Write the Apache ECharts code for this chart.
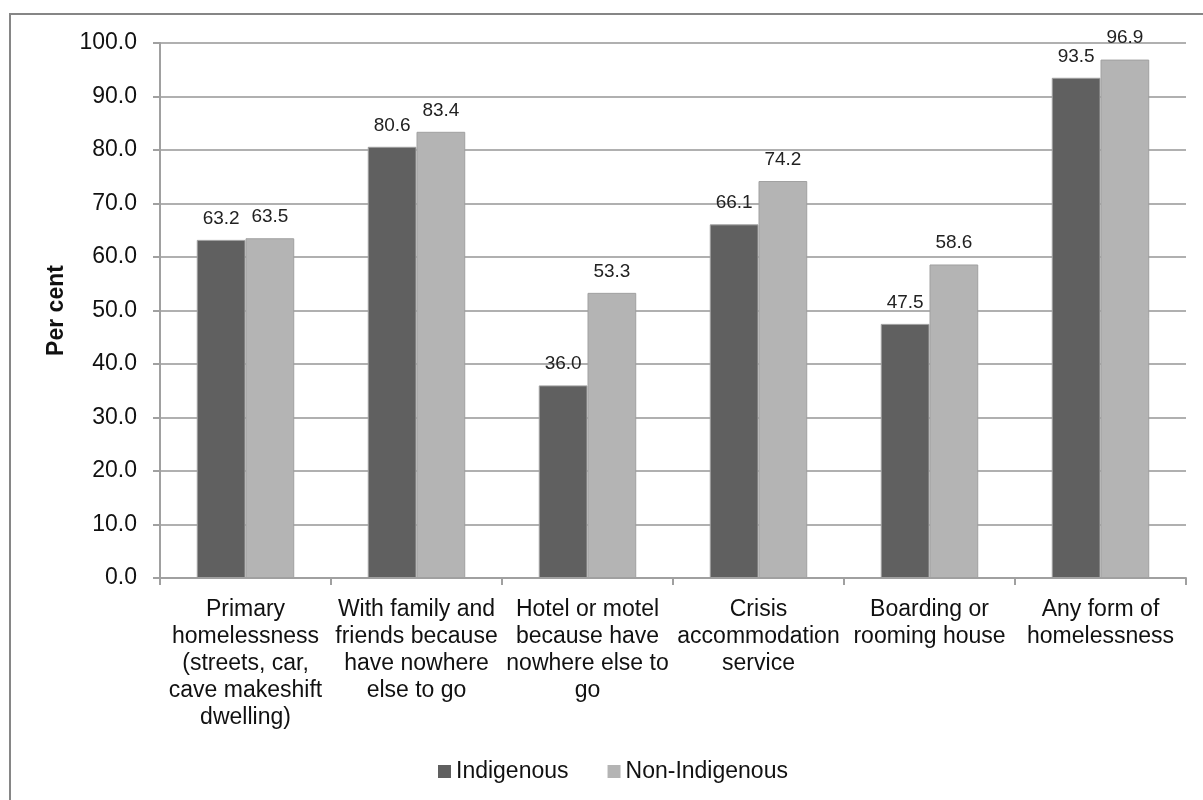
<!DOCTYPE html>
<html>
<head>
<meta charset="utf-8">
<title>Homelessness experience by Indigenous status</title>
<script src="https://cdn.jsdelivr.net/npm/echarts@6/dist/echarts.min.js"></script>
<style>
  html, body { margin: 0; padding: 0; background: #ffffff; }
  #chart { width: 1203px; height: 800px; }
</style>
</head>
<body>
<div id="chart"></div>
<script>
// Categories (line breaks follow the wrapped axis labels)
const categories = [
  'Primary\nhomelessness\n(streets, car,\ncave makeshift\ndwelling)',
  'With family and\nfriends because\nhave nowhere\nelse to go',
  'Hotel or motel\nbecause have\nnowhere else to\ngo',
  'Crisis\naccommodation\nservice',
  'Boarding or\nrooming house',
  'Any form of\nhomelessness'
];
const seriesNames = ['Indigenous', 'Non-Indigenous'];
const indigenous = [63.2, 80.6, 36.0, 66.1, 47.5, 93.5];
const nonIndigenous = [63.5, 83.4, 53.3, 74.2, 58.6, 96.9];
const yTicks = [0, 10, 20, 30, 40, 50, 60, 70, 80, 90, 100];

const font = '"Liberation Sans", Arial, sans-serif';

const chart = echarts.init(document.getElementById('chart'), null, { renderer: 'canvas' });

function barSeries(name, data, color) {
  return {
    name: name,
    type: 'bar',
    data: data,
    barGap: '0%',
    barCategoryGap: '43%',
    itemStyle: { color: color, borderColor: '#a0a0a0', borderWidth: 1 },
    label: {
      show: true,
      position: 'top',
      distance: 12,
      color: '#222',
      fontFamily: font,
      fontSize: 19,
      formatter: p => p.value.toFixed(1)
    },
    emphasis: { disabled: true }
  };
}

chart.setOption({
  animation: false,
  backgroundColor: '#ffffff',
  graphic: [{
    type: 'rect',
    shape: { x: 10, y: 14, width: 1240, height: 820 },
    style: { fill: 'none', stroke: '#868686', lineWidth: 2 },
    silent: true,
    z: -1
  }],
  grid: { left: 160, right: 17, top: 43, bottom: 222, containLabel: false },
  legend: {
    bottom: 12,
    left: 433,
    itemWidth: 13,
    itemHeight: 13,
    itemGap: 39,
    icon: 'rect',
    itemStyle: { borderWidth: 0 },
    textStyle: { fontFamily: font, fontSize: 23, color: '#111' },
    data: seriesNames
  },
  xAxis: {
    type: 'category',
    data: categories,
    boundaryGap: true,
    axisLine: { lineStyle: { color: '#a0a0a0', width: 2 } },
    axisTick: { show: true, length: 7, lineStyle: { color: '#a0a0a0', width: 2 } },
    axisLabel: {
      interval: 0,
      margin: 18,
      fontFamily: font,
      fontSize: 23,
      lineHeight: 27,
      color: '#111',
      align: 'center'
    },
    splitLine: { show: false }
  },
  yAxis: {
    type: 'value',
    min: yTicks[0],
    max: yTicks[yTicks.length - 1],
    interval: 10,
    name: 'Per cent',
    nameLocation: 'middle',
    nameRotate: 90,
    nameGap: 90,
    nameTextStyle: { fontFamily: font, fontSize: 23, fontWeight: 'bold', color: '#111' },
    axisLine: { show: true, lineStyle: { color: '#a0a0a0', width: 2 } },
    axisTick: { show: true, length: 7, lineStyle: { color: '#a0a0a0', width: 2 } },
    axisLabel: {
      margin: 23,
      fontFamily: font,
      fontSize: 23,
      color: '#111',
      formatter: v => v.toFixed(1)
    },
    splitLine: { show: true, lineStyle: { color: '#b0b0b0', width: 2 } }
  },
  series: [
    barSeries(seriesNames[0], indigenous, '#606060'),
    barSeries(seriesNames[1], nonIndigenous, '#b4b4b4')
  ]
});
</script>
</body>
</html>
